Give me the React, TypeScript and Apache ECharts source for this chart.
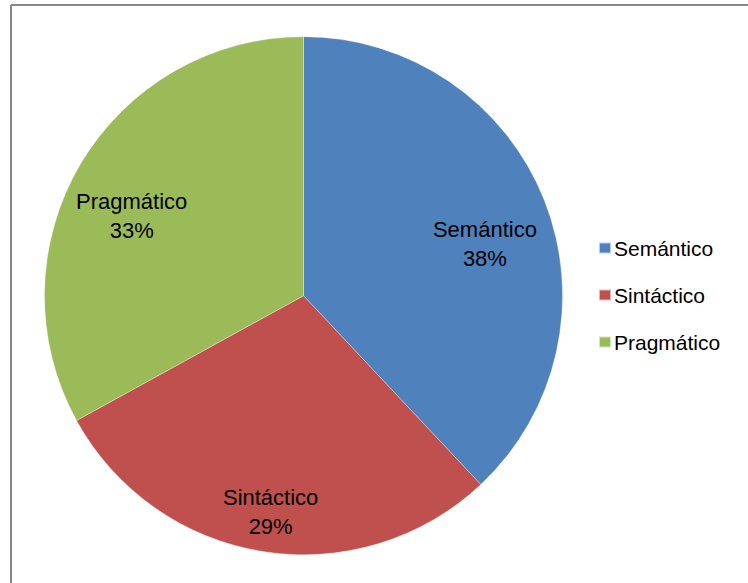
import React, { useEffect, useRef } from "react";
import * as echarts from "echarts";

const categories = ["Semántico", "Sintáctico", "Pragmático"];
const values = [38, 29, 33];
const colors = ["#4F81BD", "#C0504D", "#9BBB59"];

const FONT = "'Liberation Sans', Arial, sans-serif";

export default function App() {
  const ref = useRef<HTMLDivElement>(null);
  useEffect(() => {
    if (!ref.current) return;
    const chart = echarts.init(ref.current, undefined, { renderer: "svg" });
    const data = categories.map((name, i) => ({
      name,
      value: values[i],
      itemStyle: { color: colors[i] },
    }));
    const R = 259;
    const center = [303.5, 295.7];
    chart.setOption({
      animation: false,
      backgroundColor: "#ffffff",
      legend: {
        orient: "vertical",
        left: 593,
        top: 231,
        itemWidth: 12,
        itemHeight: 11,
        itemGap: 23,
        icon: "rect",
        data: categories,
        textStyle: { fontFamily: FONT, fontSize: 21, color: "#000", lineHeight: 24, padding: [0, 0, 0, -2] },
      },
      graphic: [
        { type: "line", shape: { x1: 11, y1: 5, x2: 748, y2: 5 }, style: { stroke: "#878787", lineWidth: 2 } },
        { type: "line", shape: { x1: 11, y1: 5, x2: 11, y2: 583 }, style: { stroke: "#878787", lineWidth: 2 } },
      ],
      series: [
        {
          type: "pie",
          center,
          radius: [0, R],
          startAngle: 90,
          clockwise: true,
          data,
          label: { show: false },
          labelLine: { show: false },
          itemStyle: { borderColor: "rgba(255,255,255,0.6)", borderWidth: 0.5 },
          emphasis: { disabled: true },
        },
        {
          type: "pie",
          center,
          radius: [R * 0.5, R],
          startAngle: 90,
          clockwise: true,
          silent: true,
          data: data.map((d) => ({ ...d, itemStyle: { color: "rgba(0,0,0,0)" } })),
          itemStyle: { color: "rgba(0,0,0,0)", borderWidth: 0 },
          label: {
            show: true,
            position: "inside",
            formatter: (p: any) => `${p.name}\n${p.value}%`,
            fontFamily: FONT,
            fontSize: 22,
            lineHeight: 29,
            color: "#000",
            align: "center",
            offset: [-2, 21],
          },
          labelLine: { show: false },
          emphasis: { disabled: true },
        },
      ],
    });
    return () => chart.dispose();
  }, []);
  return (
    <div
      ref={ref}
      style={{ position: "absolute", left: 0, top: 0, width: 748, height: 583 }}
    />
  );
}
